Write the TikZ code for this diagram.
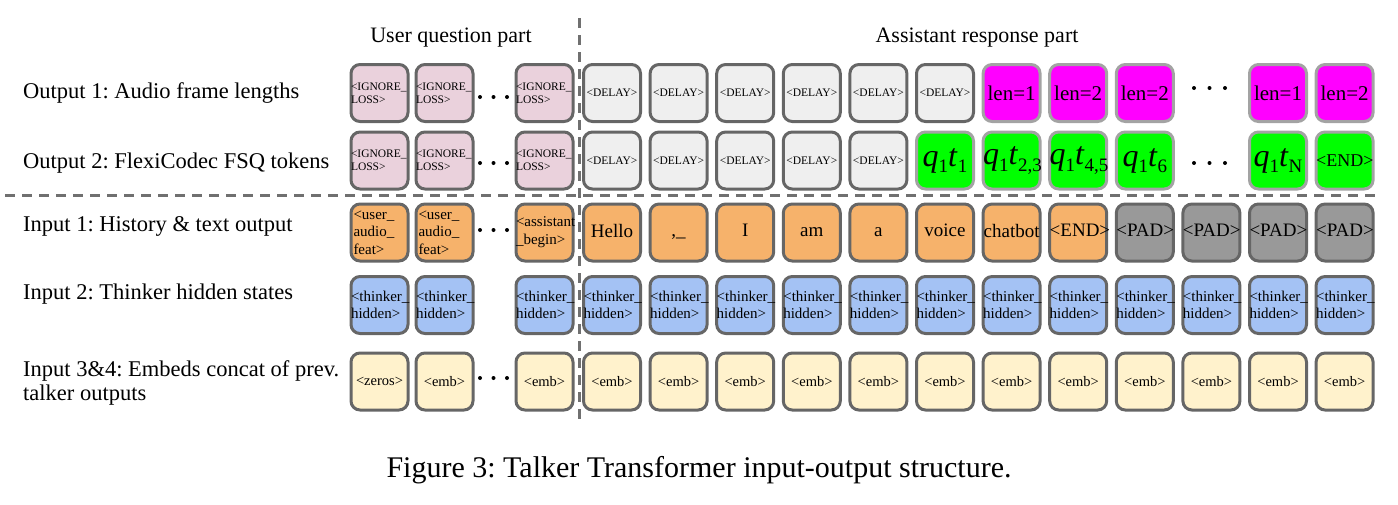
\documentclass[tikz,border=0pt]{standalone}
\usepackage{fontspec}
\setmainfont{Liberation Serif}
\frenchspacing
\definecolor{pinkbox}{HTML}{EAD1DC}
\definecolor{delaybox}{HTML}{EFEFEF}
\definecolor{magbox}{HTML}{FF00FF}
\definecolor{greenbox}{HTML}{00FF00}
\definecolor{orangebox}{HTML}{F6B26B}
\definecolor{padbox}{HTML}{999999}
\definecolor{bluebox}{HTML}{A4C2F4}
\definecolor{creambox}{HTML}{FFF2CC}
\definecolor{edge}{HTML}{666666}
\definecolor{lightedge}{HTML}{A3A3A3}
\definecolor{dashcol}{HTML}{707070}
\newcommand\fs[2]{\fontsize{#1}{#2}\selectfont}
\newcommand\ph{\vphantom{Hg}}
\newcommand\qtok[1]{{\fs{32}{32}\textit{q}\raisebox{-6.5pt}{\fs{19}{19}1}\textit{t}\raisebox{-6.5pt}{\fs{19}{19}#1}}}
\begin{document}
\begin{tikzpicture}[x=1pt,y=-1pt,
  tok/.style={draw=edge, line width=3pt, rounded corners=9pt, minimum width=57pt, minimum height=57pt, inner sep=0pt, text width=57pt, align=center},
  tokl/.style={tok, align=left},
  lighttok/.style={tok, draw=lightedge},
  ignore/.style={tokl, fill=pinkbox, font=\fs{11.5}{13}},
  delay/.style={tok, fill=delaybox, font=\fs{11.5}{13}},
  lenbox/.style={lighttok, fill=magbox, font=\fs{21}{24}},
  fsq/.style={lighttok, fill=greenbox},
  txt/.style={tok, fill=orangebox, font=\fs{19}{22}},
  usr/.style={tokl, fill=orangebox, font=\fs{15}{17.5}, text width=52pt, inner xsep=2.5pt},
  pad/.style={tok, fill=padbox, font=\fs{19}{22}},
  hid/.style={tokl, fill=bluebox, font=\fs{15}{17}},
  emb/.style={tok, fill=creambox, font=\fs{14.5}{17}},
  rowlabel/.style={anchor=base west, inner sep=0pt, font=\fs{22.5}{24}, align=left},
  header/.style={anchor=base, inner sep=0pt, font=\fs{22}{26}},
  sep/.style={draw=dashcol, line width=3pt, dash pattern=on 10pt off 7pt},
  dotmark/.style={fill=black},
]
\useasboundingbox (0,0) rectangle (1398,504);

% headers
\node[header] (huser) at (451,42) {User question part};
\node[header] (hasst) at (977,42) {Assistant response part};

% row labels
\node[rowlabel] (l1) at (23,98) {Output 1: Audio frame lengths};
\node[rowlabel] (l2) at (23,168) {Output 2: FlexiCodec FSQ tokens};
\node[rowlabel] (l3) at (23,231) {Input 1: History \& text output};
\node[rowlabel] (l4) at (23,299) {Input 2: Thinker hidden states};
\node[rowlabel] (l5) at (23,400) {Input 3\&4: Embeds concat of prev.\\talker outputs};

% separators
\draw[sep] (579,18) -- (579,422);
\draw[sep] (5,195) -- (1376,195);

% ---- Output 1
\node[ignore] (o1u1) at (379.5,93) {<IGNORE\_\\LOSS>};
\node[ignore] (o1u2) at (444.5,93) {<IGNORE\_\\LOSS>};
\node[ignore] (o1u3) at (544.5,93) {<IGNORE\_\\LOSS>};
\foreach \i in {0,...,5} \node[delay] (o1a\i) at ({612+66.6*\i},93) {<DELAY>};
\node[lenbox] (o1a6) at ({612+66.6*6},93) {len=1};
\node[lenbox] (o1a7) at ({612+66.6*7},93) {len=2};
\node[lenbox] (o1a8) at ({612+66.6*8},93) {len=2};
\node[lenbox] (o1a10) at ({612+66.6*10},93) {len=1};
\node[lenbox] (o1a11) at ({612+66.6*11},93) {len=2};

% ---- Output 2
\node[ignore] (o2u1) at (379.5,160.5) {<IGNORE\_\\LOSS>};
\node[ignore] (o2u2) at (444.5,160.5) {<IGNORE\_\\LOSS>};
\node[ignore] (o2u3) at (544.5,160.5) {<IGNORE\_\\LOSS>};
\foreach \i in {0,...,4} \node[delay] (o2a\i) at ({612+66.6*\i},160.5) {<DELAY>};
\node[fsq] (o2a5) at ({612+66.6*5},160.5) {\qtok{1}};
\node[fsq] (o2a6) at ({612+66.6*6},160.5) {\qtok{2,3}};
\node[fsq] (o2a7) at ({612+66.6*7},160.5) {\qtok{4,5}};
\node[fsq] (o2a8) at ({612+66.6*8},160.5) {\qtok{6}};
\node[fsq] (o2a10) at ({612+66.6*10},160.5) {\qtok{N}};
\node[fsq, font=\fs{18}{20}] (o2a11) at ({612+66.6*11},160.5) {<END>};

% ---- Input 1
\node[usr] (i1u1) at (379.5,232.5) {<user\_\\audio\_\\feat>};
\node[usr] (i1u2) at (444.5,232.5) {<user\_\\audio\_\\feat>};
\node[tokl, fill=orangebox, font=\fs{15}{18}] (i1u3) at (544.5,232.5) {<assistant\\\_begin>};
\node[txt] (i1a0) at ({612+66.6*0},232.5) {\ph Hello};
\node[txt] (i1a1) at ({612+66.6*1},232.5) {\ph ,\_};
\node[txt] (i1a2) at ({612+66.6*2},232.5) {\ph I};
\node[txt] (i1a3) at ({612+66.6*3},232.5) {\ph am};
\node[txt] (i1a4) at ({612+66.6*4},232.5) {\ph a};
\node[txt] (i1a5) at ({612+66.6*5},232.5) {\ph voice};
\node[txt] (i1a6) at ({612+66.6*6},232.5) {\ph chatbot};
\node[txt] (i1a7) at ({612+66.6*7},232.5) {\ph <END>};
\foreach \i in {8,...,11} \node[pad] (i1a\i) at ({612+66.6*\i},232.5) {\ph <PAD>};

% ---- Input 2
\node[hid] (i2u1) at (379.5,305) {<thinker\_\\hidden>};
\node[hid] (i2u2) at (444.5,305) {<thinker\_\\hidden>};
\node[hid] (i2u3) at (544.5,305) {<thinker\_\\hidden>};
\foreach \i in {0,...,11} \node[hid] (i2a\i) at ({612+66.6*\i},305) {<thinker\_\\hidden>};

% ---- Input 3&4
\node[emb] (i3u1) at (379.5,381.5) {<zeros>};
\node[emb] (i3u2) at (444.5,381.5) {<emb>};
\node[emb] (i3u3) at (544.5,381.5) {<emb>};
\foreach \i in {0,...,11} \node[emb] (i3a\i) at ({612+66.6*\i},381.5) {<emb>};

% ellipsis dots
\foreach \y in {97,163,230,378} {
  \foreach \x in {480,493.5,507} \fill[dotmark] (\x,\y) circle (2);
}
\foreach \y in {88,163} {
  \foreach \x in {1194,1209.5,1225} \fill[dotmark] (\x,\y) circle (2);
}

% caption
\node[anchor=base, inner sep=0pt, font=\fs{30}{34}] (cap) at (699,477) {Figure 3: Talker Transformer input-output structure.};
\end{tikzpicture}
\end{document}
